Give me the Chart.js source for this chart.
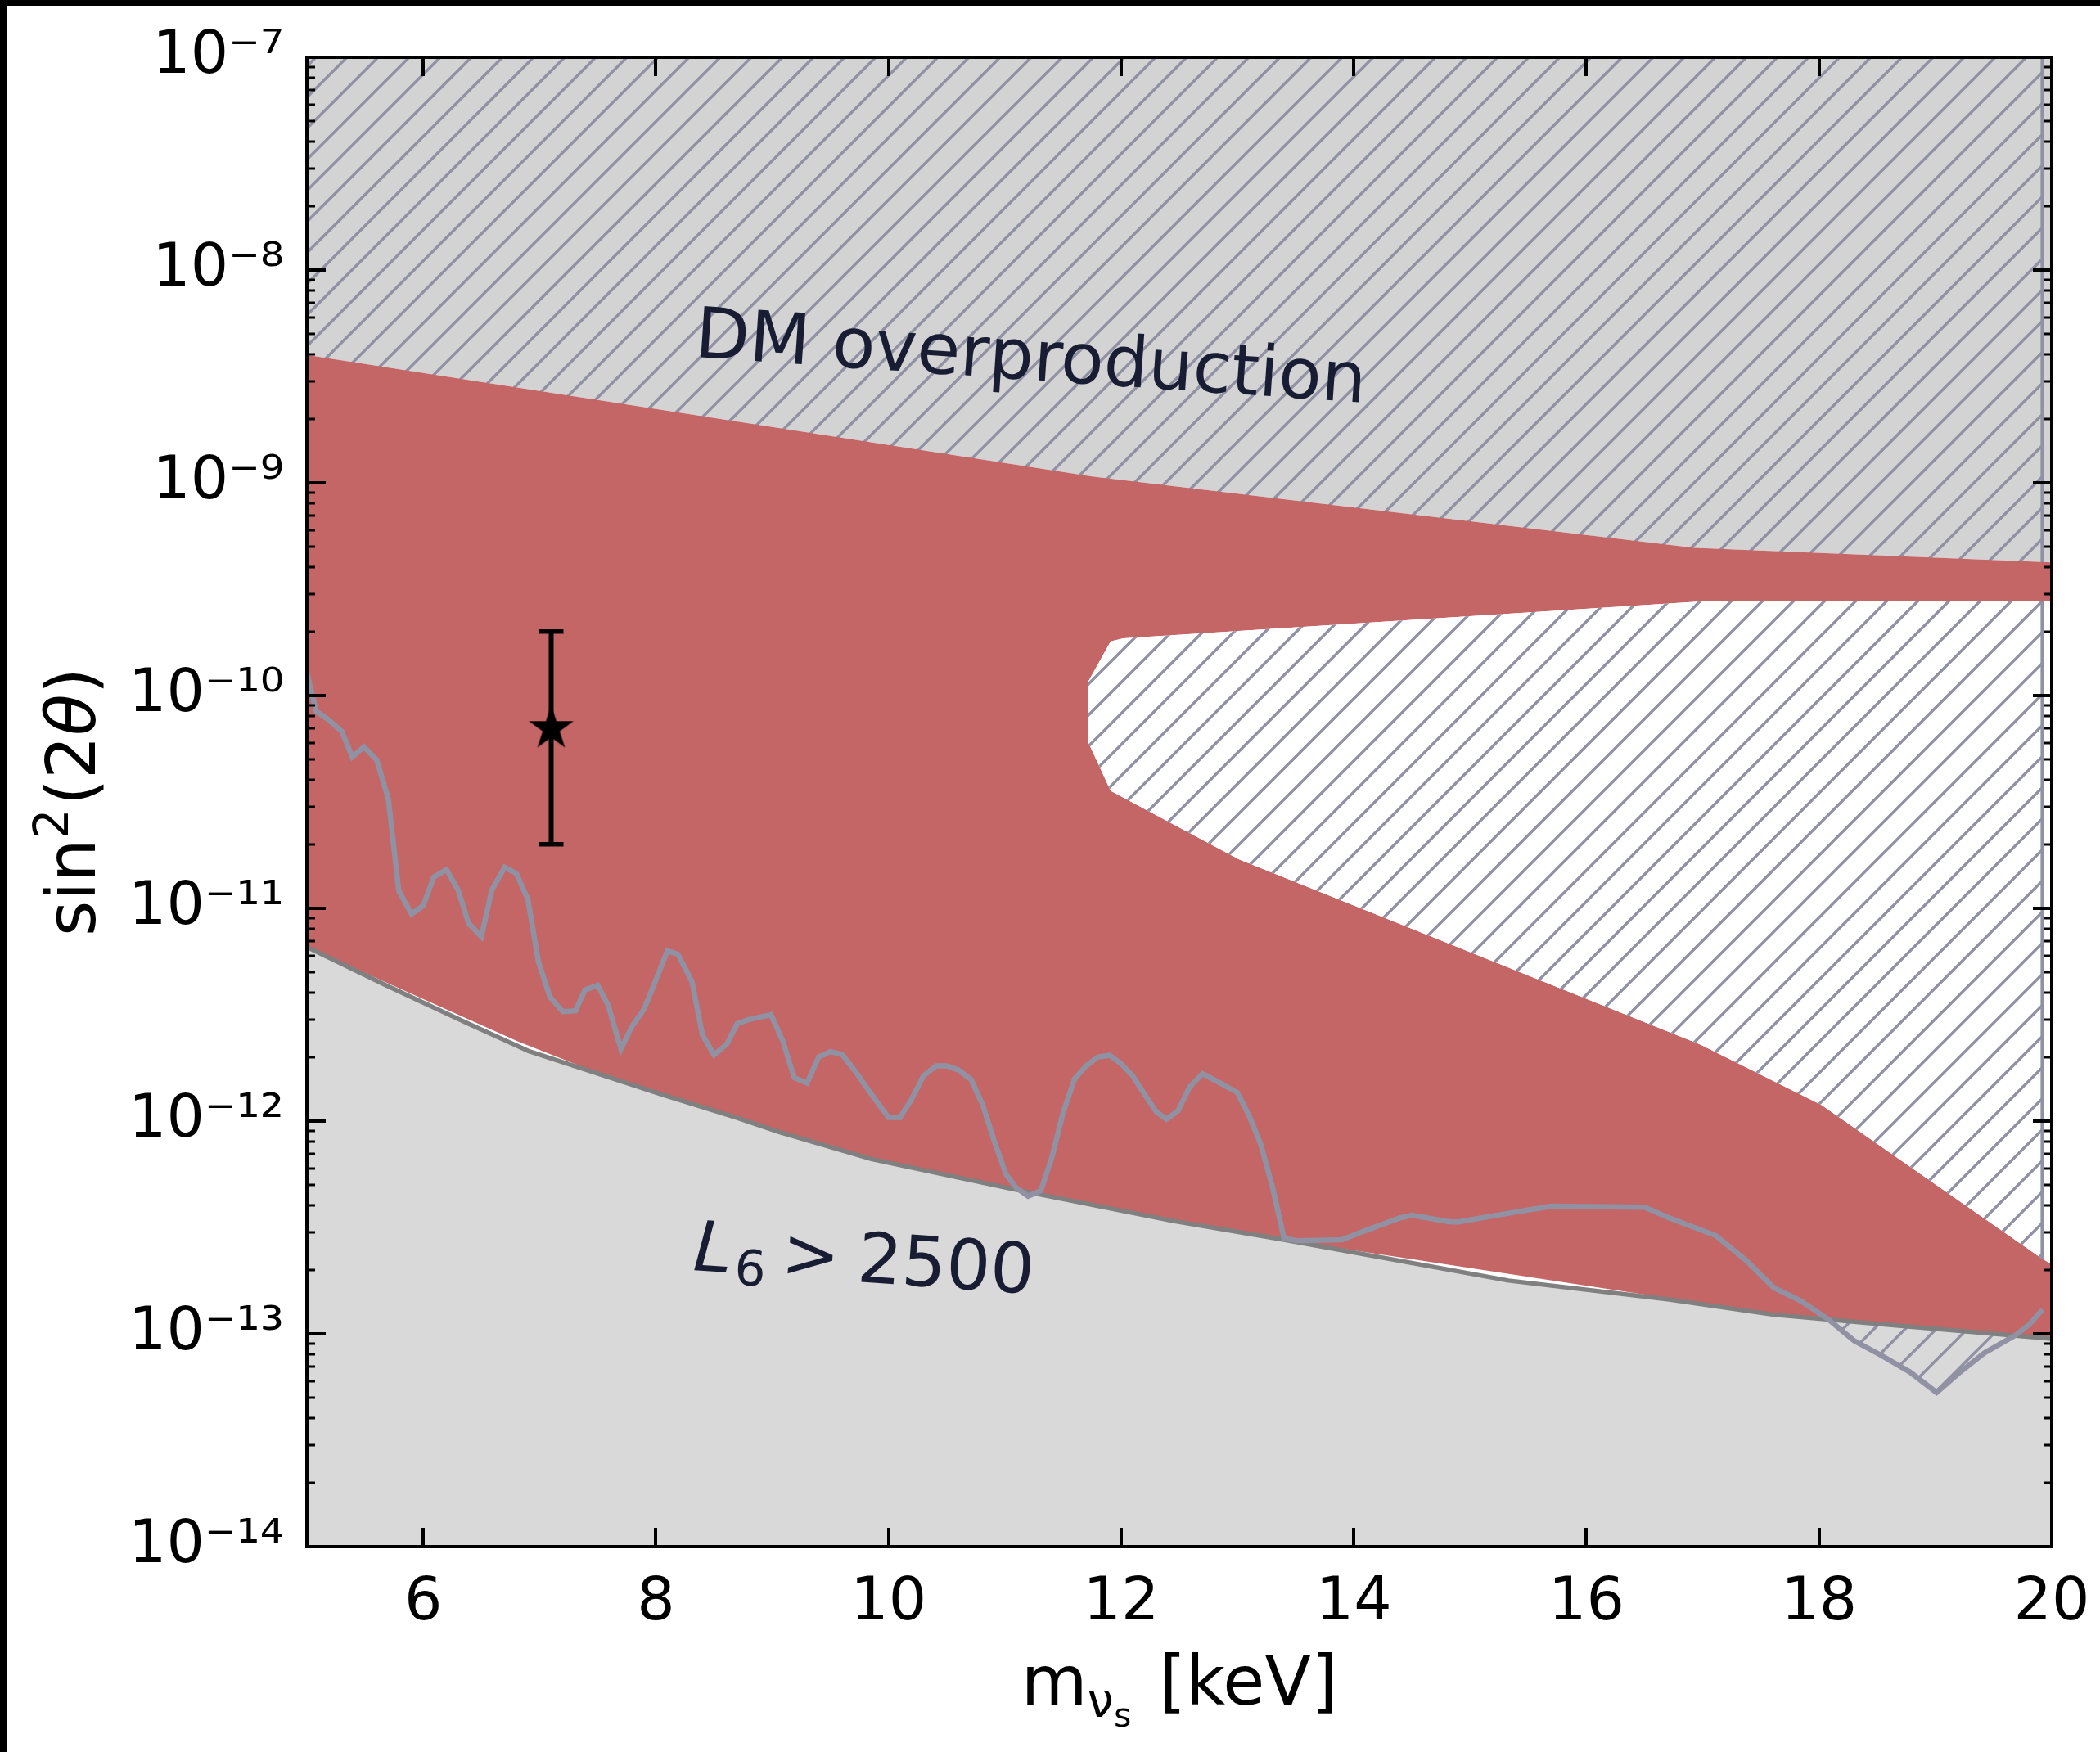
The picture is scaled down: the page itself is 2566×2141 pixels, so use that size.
<!DOCTYPE html>
<html><head><meta charset="utf-8">
<script src="https://cdn.jsdelivr.net/npm/chart.js@4"></script>
<style>html,body{margin:0;padding:0;background:#fff;overflow:hidden}#wrap{width:2566px;height:2141px;position:relative}</style>
</head><body><div id="wrap"><canvas id="c"></canvas></div>
<script>
// ---------- axes ----------
const massRange = [5, 20];
const mixingRange = [1e-14, 1e-7];
const xTickValues = [6, 8, 10, 12, 14, 16, 18, 20];
const xTickLabels = ['6', '8', '10', '12', '14', '16', '18', '20'];
const yTickValues = [1e-14, 1e-13, 1e-12, 1e-11, 1e-10, 1e-9, 1e-8, 1e-7];
const yTickLabels = ['10⁻¹⁴', '10⁻¹³', '10⁻¹²', '10⁻¹¹', '10⁻¹⁰', '10⁻⁹', '10⁻⁸', '10⁻⁷'];

// ---------- DM overproduction boundary ----------
const dmMass = [5, 11.75, 16.93, 20];
const dmMixing = [3.99e-9, 1.07e-9, 4.95e-10, 4.23e-10];

// ---------- L6 > 2500 boundary ----------
const l6Mass = [5, 5.68, 6.39, 6.9, 7.58, 8.06, 8.69, 9.06, 9.86, 11.07, 12.45, 13.40, 15.33, 16.71, 17.61, 18.54, 20];
const l6Mixing = [6.58e-12, 4.35e-12, 2.87e-12, 2.14e-12, 1.62e-12, 1.33e-12, 1.04e-12, 8.89e-13, 6.62e-13, 4.79e-13, 3.39e-13, 2.77e-13, 1.78e-13, 1.45e-13, 1.23e-13, 1.11e-13, 9.48e-14];

// ---------- allowed (red) region lower edge ----------
const allowedLowMass = [5, 6.82, 7.58, 8.06, 8.69, 9.06, 9.86, 11.07, 12.45, 13.40, 16.71, 17.61, 18.54, 20];
const allowedLowMixing = [6.58e-12, 2.36e-12, 1.62e-12, 1.33e-12, 1.04e-12, 8.89e-13, 6.62e-13, 4.79e-13, 3.39e-13, 2.77e-13, 1.47e-13, 1.23e-13, 1.11e-13, 9.48e-14];

// ---------- gap in the allowed region ----------
const gapTopMass = [11.716, 11.91, 12.02, 16.98, 19.92, 20];
const gapTopMixing = [1.16e-10, 1.80e-10, 1.86e-10, 2.77e-10, 2.77e-10, 2.77e-10];
const gapBottomMass = [11.716, 11.91, 13.01, 16.98, 18.02, 19.92, 20];
const gapBottomMixing = [6.05e-11, 3.56e-11, 1.70e-11, 2.29e-12, 1.19e-12, 2.25e-13, 2.12e-13];

// ---------- X-ray limit ----------
const xrayMass = [5.00, 5.08, 5.18, 5.30, 5.39, 5.49, 5.60, 5.70, 5.79, 5.90,
  6.00, 6.09, 6.20, 6.30, 6.39, 6.50, 6.59, 6.70, 6.80, 6.90,
  6.99, 7.09, 7.20, 7.31, 7.39, 7.50, 7.59, 7.70, 7.79, 7.90,
  8.00, 8.10, 8.19, 8.31, 8.40, 8.50, 8.61, 8.70, 8.80, 8.99,
  9.09, 9.19, 9.30, 9.40, 9.50, 9.60, 9.71, 9.86, 10.00, 10.10,
  10.20, 10.30, 10.41, 10.50, 10.60, 10.71, 10.81, 10.91, 11.01, 11.10,
  11.20, 11.31, 11.41, 11.50, 11.60, 11.70, 11.80, 11.90, 12.00, 12.10,
  12.20, 12.30, 12.39, 12.49, 12.59, 12.70, 12.85, 13.00, 13.10, 13.20,
  13.30, 13.40, 13.52, 13.90, 14.08, 14.40, 14.50, 14.83, 14.90, 15.37,
  15.70, 16.50, 16.71, 17.11, 17.37, 17.61, 17.84, 18.08, 18.30, 18.54,
  18.78, 19.01, 19.20, 19.42, 19.69, 19.81, 19.92];
const xrayMixing = [1.28e-10, 8.43e-11, 7.73e-11, 6.79e-11, 5.14e-11, 5.74e-11, 4.98e-11, 3.27e-11, 1.21e-11, 9.40e-12,
  1.03e-11, 1.40e-11, 1.52e-11, 1.22e-11, 8.51e-12, 7.36e-12, 1.22e-11, 1.56e-11, 1.46e-11, 1.10e-11,
  5.62e-12, 3.83e-12, 3.27e-12, 3.30e-12, 4.14e-12, 4.35e-12, 3.50e-12, 2.18e-12, 2.76e-12, 3.37e-12,
  4.61e-12, 6.32e-12, 6.08e-12, 4.53e-12, 2.55e-12, 2.05e-12, 2.30e-12, 2.87e-12, 3.00e-12, 3.16e-12,
  2.39e-12, 1.60e-12, 1.51e-12, 2.00e-12, 2.12e-12, 2.06e-12, 1.73e-12, 1.32e-12, 1.04e-12, 1.04e-12,
  1.27e-12, 1.63e-12, 1.82e-12, 1.82e-12, 1.74e-12, 1.57e-12, 1.19e-12, 8.02e-13, 5.62e-13, 4.85e-13,
  4.44e-13, 4.71e-13, 6.92e-13, 1.09e-12, 1.58e-12, 1.82e-12, 2.00e-12, 2.04e-12, 1.86e-12, 1.63e-12,
  1.34e-12, 1.11e-12, 1.02e-12, 1.12e-12, 1.45e-12, 1.67e-12, 1.51e-12, 1.36e-12, 1.06e-12, 7.78e-13,
  4.92e-13, 2.81e-13, 2.74e-13, 2.77e-13, 3.03e-13, 3.51e-13, 3.61e-13, 3.36e-13, 3.36e-13, 3.72e-13,
  3.98e-13, 3.94e-13, 3.51e-13, 2.90e-13, 2.22e-13, 1.65e-13, 1.43e-13, 1.17e-13, 9.29e-14, 7.89e-14,
  6.62e-14, 5.30e-14, 6.52e-14, 8.13e-14, 9.86e-14, 1.11e-13, 1.30e-13];
const xrayEdgeMass = 19.92;

// ---------- 3.5 keV line signal ----------
const signalMass = [7.1];
const signalMixing = [7e-11];
const signalLow = [2e-11];
const signalHigh = [2e-10];

// ---------- styles ----------
const RED = '#c46566';
const DMGRAY = '#d3d3d3';
const L6GRAY = '#d9d9d9';
const HATCH = '#9092a4';
const TEXT = '#181d33';
const FONT = 'DejaVu Sans';
const NONE = 'rgba(0,0,0,0)';

function pts(xs, ys) { return xs.map((x, i) => ({ x: x, y: ys[i] })); }

function makeHatch(bg) {
  const s = 38;
  const c = document.createElement('canvas');
  c.width = s; c.height = s;
  const g = c.getContext('2d');
  if (bg) { g.fillStyle = bg; g.fillRect(0, 0, s, s); }
  g.strokeStyle = HATCH; g.lineWidth = 3.4; g.lineCap = 'square';
  g.beginPath();
  g.moveTo(0, s); g.lineTo(s, 0);
  g.moveTo(-s, s); g.lineTo(s, -s);
  g.moveTo(0, 2 * s); g.lineTo(2 * s, 0);
  g.stroke();
  return g.createPattern(c, 'repeat');
}

function makeStar() {
  const size = 66, R = 25.5, r = R * 0.382;
  const c = document.createElement('canvas');
  c.width = size; c.height = size;
  const g = c.getContext('2d');
  g.beginPath();
  for (let k = 0; k < 10; k++) {
    const ang = -Math.PI / 2 + k * Math.PI / 5;
    const rad = k % 2 === 0 ? R : r;
    const px = size / 2 + rad * Math.cos(ang), py = size / 2 + rad * Math.sin(ang);
    if (k === 0) g.moveTo(px, py); else g.lineTo(px, py);
  }
  g.closePath();
  g.fillStyle = '#000'; g.fill();
  g.lineWidth = 2; g.strokeStyle = '#000'; g.lineJoin = 'miter'; g.stroke();
  return c;
}

const hatchClear = makeHatch(null);
const hatchWhite = makeHatch('#ffffff');
const starImg = makeStar();

const gapTopHatch = pts(gapTopMass, gapTopMixing).filter(p => p.x <= xrayEdgeMass);
const gapBottomHatch = pts(gapBottomMass, gapBottomMixing).filter(p => p.x <= xrayEdgeMass);

const datasets = [
  // 0 DM overproduction grey
  { data: pts(dmMass, dmMixing), fill: 'end', backgroundColor: DMGRAY, borderColor: NONE, borderWidth: 0, order: 20 },
  // 1 L6 grey
  { data: pts(l6Mass, l6Mixing), fill: 'start', backgroundColor: L6GRAY, borderColor: NONE, borderWidth: 0, order: 19 },
  // 2 X-ray hatch
  { data: pts(xrayMass, xrayMixing), fill: 'end', backgroundColor: hatchClear, borderColor: NONE, borderWidth: 0, order: 18 },
  // 3 X-ray vertical edge
  { data: [{ x: xrayEdgeMass, y: xrayMixing[xrayMixing.length - 1] }, { x: xrayEdgeMass, y: mixingRange[1] }], fill: false, borderColor: HATCH, borderWidth: 4.5, order: 17 },
  // 4 allowed region (red) upper
  { data: pts(dmMass, dmMixing), fill: { target: 5 }, backgroundColor: RED, borderColor: NONE, borderWidth: 0, order: 16 },
  // 5 allowed region lower
  { data: pts(allowedLowMass, allowedLowMixing), fill: false, borderColor: NONE, borderWidth: 0, order: 16 },
  // 6 gap white
  { data: pts(gapTopMass, gapTopMixing), fill: { target: 7 }, backgroundColor: '#ffffff', borderColor: NONE, borderWidth: 0, order: 15 },
  // 7
  { data: pts(gapBottomMass, gapBottomMixing), fill: false, borderColor: NONE, borderWidth: 0, order: 15 },
  // 8 gap hatch
  { data: gapTopHatch, fill: { target: 9 }, backgroundColor: hatchWhite, borderColor: NONE, borderWidth: 0, order: 14 },
  // 9
  { data: gapBottomHatch, fill: false, borderColor: NONE, borderWidth: 0, order: 14 },
  // 10 gap hatch edge
  { data: [gapBottomHatch[gapBottomHatch.length - 1], gapTopHatch[gapTopHatch.length - 1]], fill: false, borderColor: HATCH, borderWidth: 4.5, order: 13 },
  // 11 L6 line
  { data: pts(l6Mass, l6Mixing), fill: false, borderColor: '#808080', borderWidth: 5.5, order: 5 },
  // 12 X-ray line
  { data: pts(xrayMass, xrayMixing), fill: false, borderColor: HATCH, borderWidth: 6.5, borderJoinStyle: 'miter', order: 4 },
  // 13 error bar
  { data: [{ x: signalMass[0], y: signalLow[0] }, { x: signalMass[0], y: signalHigh[0] }], fill: false, borderColor: '#000', borderWidth: 6,
    pointStyle: 'line', pointRadius: 15, pointBorderWidth: 5.5, pointBorderColor: '#000', pointBackgroundColor: '#000', order: 2 },
  // 14 star
  { data: pts(signalMass, signalMixing), showLine: false, fill: false, pointStyle: starImg, pointRadius: 27, borderColor: '#000', backgroundColor: '#000', order: 1 }
];

function drawPieces(ctx, pieces, x, y) {
  let cx = x;
  for (const p of pieces) {
    ctx.font = (p.style || '') + ' ' + p.size + 'px "' + FONT + '"';
    ctx.fillText(p.t, cx + (p.dx || 0), y + (p.dy || 0));
    cx += ctx.measureText(p.t).width + (p.gap || 0);
  }
}
function piecesWidth(ctx, pieces) {
  let w = 0;
  for (const p of pieces) { ctx.font = (p.style || '') + ' ' + p.size + 'px "' + FONT + '"'; w += ctx.measureText(p.t).width + (p.gap || 0); }
  return w;
}

const decor = {
  id: 'decor',
  beforeDraw(chart) {
    const c = chart.ctx;
    c.save();
    c.fillStyle = '#fff'; c.fillRect(0, 0, chart.width, chart.height);
    c.fillStyle = '#000'; c.fillRect(0, 0, chart.width, 7); c.fillRect(0, 0, 8, chart.height);
    c.restore();
  },
  afterDatasetsDraw(chart) {
    const c = chart.ctx;
    c.save();
    c.fillStyle = TEXT; c.textBaseline = 'alphabetic'; c.textAlign = 'left';
    // DM overproduction
    c.save();
    c.translate(848, 436); c.rotate(3.9 * Math.PI / 180);
    c.font = '86px "' + FONT + '"';
    c.fillText('DM overproduction', 0, 0);
    c.restore();
    // L6 > 2500
    c.save();
    c.translate(846, 1552); c.rotate(4.0 * Math.PI / 180);
    drawPieces(c, [
      { t: 'L', size: 85, style: 'italic', gap: 4 },
      { t: '6', size: 60, dy: 14, gap: 18 },
      { t: '>', size: 85, gap: 22 },
      { t: '2500', size: 85 }
    ], 0, 0);
    c.restore();
    c.restore();
  },
  afterDraw(chart) {
    const c = chart.ctx, a = chart.chartArea, xs = chart.scales.x, ys = chart.scales.y;
    c.save();
    c.strokeStyle = '#000'; c.lineCap = 'butt';
    // y ticks (major + minor), inward on both sides
    for (let e = -14; e <= -7; e++) {
      for (let m = 1; m <= 9; m++) {
        const v = m * Math.pow(10, e);
        if (v > mixingRange[1] * 1.0001) break;
        const py = Math.round(ys.getPixelForValue(v));
        const major = m === 1;
        const len = major ? 23 : 10;
        c.lineWidth = major ? 4 : 3;
        c.beginPath();
        c.moveTo(a.left, py); c.lineTo(a.left + len, py);
        c.moveTo(a.right, py); c.lineTo(a.right - len, py);
        c.stroke();
      }
    }
    // x ticks, bottom and top
    c.lineWidth = 4;
    for (const v of xTickValues) {
      const px = Math.round(xs.getPixelForValue(v));
      c.beginPath();
      c.moveTo(px, a.bottom); c.lineTo(px, a.bottom - 23);
      c.moveTo(px, a.top); c.lineTo(px, a.top + 23);
      c.stroke();
    }
    // frame
    c.lineWidth = 4;
    c.strokeRect(a.left, a.top, a.right - a.left, a.bottom - a.top);

    // axis titles
    c.fillStyle = '#000'; c.textBaseline = 'alphabetic'; c.textAlign = 'left';
    const xt = [
      { t: 'm', size: 83 },
      { t: 'ν', size: 58, dy: 15 },
      { t: 's', size: 41, dy: 27, gap: 8 },
      { t: ' [keV]', size: 83 }
    ];
    const xw = piecesWidth(c, xt);
    drawPieces(c, xt, (a.left + a.right) / 2 - xw / 2, 2083);

    const yt = [
      { t: 'sin', size: 83 },
      { t: '2', size: 58, dy: -33, gap: 4 },
      { t: '(2', size: 83 },
      { t: 'θ', size: 83, style: 'italic' },
      { t: ')', size: 83 }
    ];
    const yw = piecesWidth(c, yt);
    c.save();
    c.translate(116, (a.top + a.bottom) / 2);
    c.rotate(-Math.PI / 2);
    drawPieces(c, yt, -yw / 2, 0);
    c.restore();
    c.restore();
  }
};

new Chart(document.getElementById('c'), {
  type: 'line',
  data: { datasets: datasets },
  plugins: [decor],
  options: {
    responsive: true,
    maintainAspectRatio: false,
    animation: false,
    devicePixelRatio: 1,
    layout: { padding: { left: 0, right: 59, top: 70, bottom: 0 } },
    elements: { point: { radius: 0, hitRadius: 0 }, line: { tension: 0, borderJoinStyle: 'round', borderCapStyle: 'butt' } },
    plugins: { legend: { display: false }, tooltip: { enabled: false }, filler: { propagate: false } },
    events: [],
    scales: {
      x: {
        type: 'linear', min: massRange[0], max: massRange[1],
        grid: { display: false, drawTicks: false }, border: { display: false },
        afterBuildTicks: s => { s.ticks = xTickValues.map(v => ({ value: v })); },
        afterFit: s => { s.height = 251; s.paddingLeft = 0; s.paddingRight = 0; },
        ticks: {
          font: { family: FONT, size: 73 }, color: '#000', padding: 26, maxRotation: 0, autoSkip: false,
          callback: (v) => { const i = xTickValues.indexOf(v); return i >= 0 ? xTickLabels[i] : ''; }
        }
      },
      y: {
        type: 'logarithmic', min: mixingRange[0], max: mixingRange[1],
        grid: { display: false, drawTicks: false }, border: { display: false },
        afterBuildTicks: s => { s.ticks = yTickValues.map(v => ({ value: v })); },
        afterFit: s => { s.width = 375; s.paddingTop = 0; s.paddingBottom = 0; },
        ticks: {
          font: { family: FONT, size: 73 }, color: '#000', padding: 28, autoSkip: false,
          callback: (v) => { const i = yTickValues.findIndex(t => Math.abs(Math.log10(t) - Math.log10(v)) < 1e-6); return i >= 0 ? yTickLabels[i] : ''; }
        }
      }
    }
  }
});
</script>
</body></html>
